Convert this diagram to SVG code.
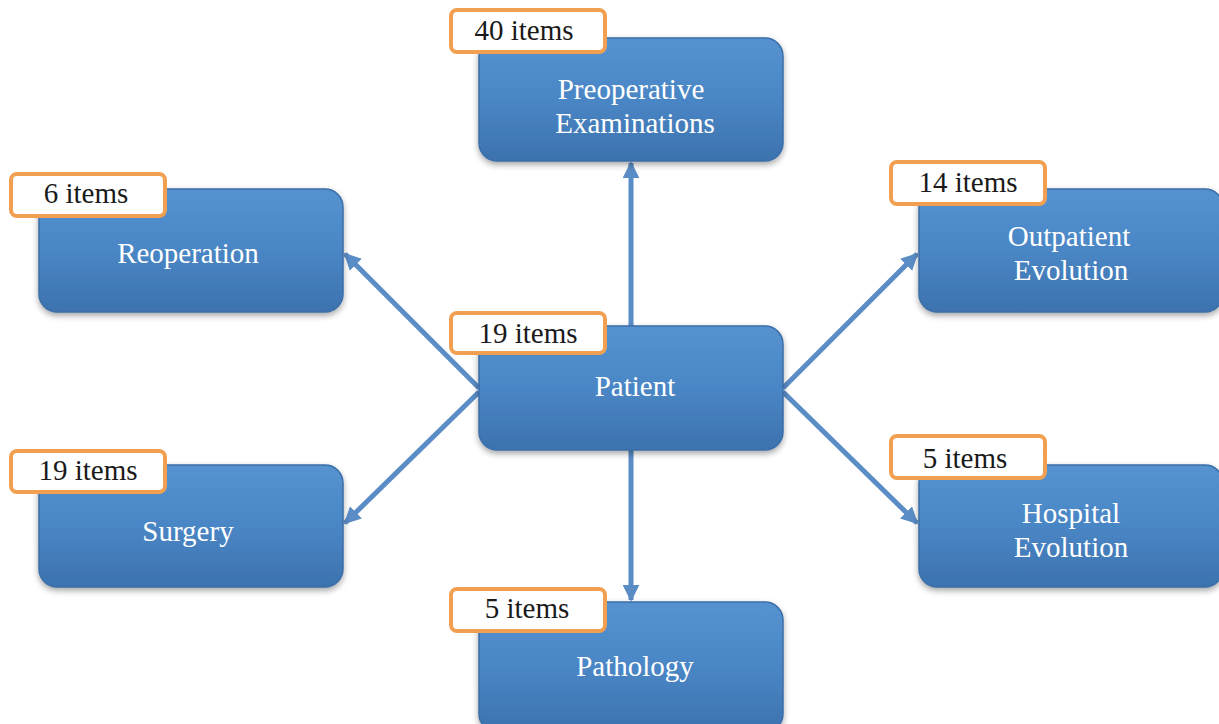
<svg xmlns="http://www.w3.org/2000/svg" width="1219" height="724" viewBox="0 0 1219 724">
<style>
.box{fill:url(#bg);stroke:#3a6ea8;stroke-width:1.5}
.lbl{fill:#ffffff;stroke:#f0a050;stroke-width:4}
.nt{font-family:"Liberation Serif","Times New Roman",serif;font-size:29px;fill:#ffffff;text-anchor:middle}
.lt{font-family:"Liberation Serif","Times New Roman",serif;font-size:29px;fill:#1a1a1a;text-anchor:middle}
.con{stroke:#5a8cc6;stroke-width:5;fill:none;marker-end:url(#ah)}
</style>
<defs>
<linearGradient id="bg" x1="0" y1="0" x2="0" y2="1">
<stop offset="0" stop-color="#5592d0"/>
<stop offset="0.5" stop-color="#4a86c5"/>
<stop offset="1" stop-color="#3c72ae"/>
</linearGradient>
<filter id="sh" x="-10%" y="-10%" width="120%" height="130%">
<feGaussianBlur in="SourceAlpha" stdDeviation="3"/>
<feOffset dy="3"/>
<feComponentTransfer><feFuncA type="linear" slope="0.35"/></feComponentTransfer>
<feMerge><feMergeNode/><feMergeNode in="SourceGraphic"/></feMerge>
</filter>
<marker id="ah" viewBox="0 0 10 10" refX="9" refY="5" markerWidth="3.4" markerHeight="3.4" orient="auto" markerUnits="strokeWidth">
<path d="M0,0 L10,5 L0,10 z" fill="#5a8cc6"/>
</marker>
</defs>
<g id="connectors">
<line class="con" x1="631" y1="326" x2="631" y2="163"/>
<line class="con" x1="631" y1="450" x2="631" y2="600"/>
<line class="con" x1="479" y1="388" x2="345" y2="254"/>
<line class="con" x1="479" y1="392" x2="345" y2="523"/>
<line class="con" x1="783" y1="388" x2="917" y2="254"/>
<line class="con" x1="783" y1="392" x2="917" y2="523"/>
</g>
<g id="preoperative">
<rect class="box" x="479" y="38" width="304" height="123" rx="18" filter="url(#sh)"/>
<text class="nt" x="631" y="99">Preoperative</text>
<text class="nt" x="635" y="133">Examinations</text>
<rect class="lbl" x="451" y="10" width="154" height="42" rx="6"/>
<text class="lt" x="524" y="40">40 items</text>
</g>
<g id="reoperation">
<rect class="box" x="39" y="189" width="304" height="123" rx="18" filter="url(#sh)"/>
<text class="nt" x="188" y="263">Reoperation</text>
<rect class="lbl" x="11" y="174" width="154" height="42" rx="6"/>
<text class="lt" x="86" y="203">6 items</text>
</g>
<g id="outpatient">
<rect class="box" x="919" y="189" width="304" height="123" rx="18" filter="url(#sh)"/>
<text class="nt" x="1069" y="246">Outpatient</text>
<text class="nt" x="1071" y="280">Evolution</text>
<rect class="lbl" x="891" y="162" width="154" height="42" rx="6"/>
<text class="lt" x="968" y="192">14 items</text>
</g>
<g id="patient">
<rect class="box" x="479" y="326" width="304" height="124" rx="18" filter="url(#sh)"/>
<text class="nt" x="635" y="396">Patient</text>
<rect class="lbl" x="451" y="313" width="154" height="40" rx="6"/>
<text class="lt" x="528" y="343">19 items</text>
</g>
<g id="surgery">
<rect class="box" x="39" y="465" width="304" height="122" rx="18" filter="url(#sh)"/>
<text class="nt" x="188" y="541">Surgery</text>
<rect class="lbl" x="11" y="451" width="154" height="41" rx="6"/>
<text class="lt" x="88" y="480">19 items</text>
</g>
<g id="hospital">
<rect class="box" x="919" y="465" width="304" height="122" rx="18" filter="url(#sh)"/>
<text class="nt" x="1071" y="523">Hospital</text>
<text class="nt" x="1071" y="557">Evolution</text>
<rect class="lbl" x="891" y="436" width="154" height="42" rx="6"/>
<text class="lt" x="965" y="468">5 items</text>
</g>
<g id="pathology">
<rect class="box" x="479" y="602" width="304" height="130" rx="18" filter="url(#sh)"/>
<text class="nt" x="635" y="676">Pathology</text>
<rect class="lbl" x="451" y="589" width="154" height="42" rx="6"/>
<text class="lt" x="527" y="618">5 items</text>
</g>
</svg>
